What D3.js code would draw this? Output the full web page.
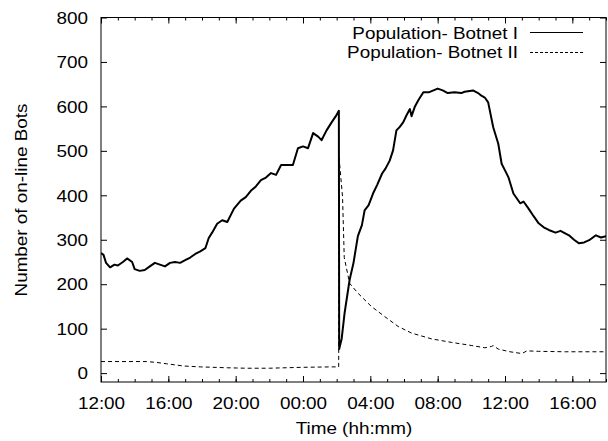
<!DOCTYPE html>
<html>
<head>
<meta charset="utf-8">
<script src="https://cdn.jsdelivr.net/npm/d3@7"></script>
<style>
  html, body { margin: 0; padding: 0; background: #fff; }
  svg { display: block; }
  text { font-family: "Liberation Sans", Arial, Helvetica, sans-serif; font-size: 16px; fill: #000; }
</style>
</head>
<body>
<svg id="chart" width="608" height="441"></svg>
<script>
// Hours elapsed since 12:00 on day 1
const botnet1Hours = [0.0,0.15,0.3,0.54,0.8,1.0,1.3,1.55,1.85,2.0,2.3,2.6,2.9,3.2,3.5,3.8,4.1,4.4,4.7,5.0,5.3,5.6,5.9,6.2,6.4,6.6,6.9,7.2,7.5,7.9,8.3,8.6,8.9,9.2,9.5,9.8,10.1,10.4,10.7,11.0,11.4,11.7,12.0,12.3,12.6,12.9,13.1,13.4,13.7,13.95,14.13,14.15,14.3,14.47,14.77,15.0,15.26,15.5,15.66,15.9,16.16,16.4,16.7,16.9,17.15,17.35,17.55,17.75,17.95,18.15,18.35,18.45,18.65,18.85,19.15,19.5,20.0,20.3,20.6,21.0,21.4,21.6,22.1,22.4,22.6,22.8,23.0,23.3,23.6,23.8,24.0,24.2,24.5,24.9,25.1,25.4,25.7,26.0,26.3,26.6,27.0,27.3,27.6,27.8,28.1,28.4,28.7,29.0,29.4,29.7,30.0];
const botnet1Values = [270,266,248,238,244,242,250,258,250,234,230,232,240,248,244,240,248,250,248,254,260,268,274,281,304,316,336,344,340,370,388,396,410,420,434,440,450,446,468,468,468,506,510,506,540,532,524,546,564,578,590,54,78,135,210,248,308,333,366,378,404,423,449,460,478,501,546,554,564,580,594,578,600,614,632,632,640,636,630,632,630,633,636,630,624,620,609,553,516,471,456,441,404,382,386,370,353,337,328,322,316,320,314,310,300,292,294,299,310,305,308];

const botnet2Hours = [0,2.7,3.3,3.9,4.9,5.9,7.5,8.6,10,11.9,13.7,14.12,14.14,14.35,14.45,14.77,15.26,16.06,16.86,17.65,18.45,19.64,20.84,22.03,22.8,23.2,23.3,23.6,24.3,25.0,25.3,26,27.6,30];
const botnet2Values = [26,26,24,21,16,14,12,11,11,13,14,14,486,396,260,202,180,150,127,105,90,77,69,62,57,60,62,54,48,44,50,49,48,48];

const xTickHours = [0,4,8,12,16,20,24,28];
const xTickLabels = ["12:00","16:00","20:00","00:00","04:00","08:00","12:00","16:00"];
const yTickValues = [0,100,200,300,400,500,600,700,800];
const seriesNames = ["Population- Botnet I","Population- Botnet II"];

const svg = d3.select("#chart");
const M = {left: 101, right: 606, top: 17.5, bottom: 382};
const SX = 1.18; // horizontal stretch of glyphs in the reference

const x = d3.scaleLinear().domain([0, 30]).range([M.left, M.right]);
const y = d3.scaleLinear().domain([-20, 800]).range([M.bottom, M.top]);

const minorHours = d3.range(0, 31, 1);

function styleAxis(g) {
  g.select(".domain").remove();
  g.selectAll("line").attr("stroke", "#000").attr("stroke-width", 1);
}

svg.append("g").attr("transform", `translate(0,${M.bottom})`)
  .call(d3.axisBottom(x).tickValues(minorHours).tickSize(-3).tickFormat(""))
  .call(styleAxis);
svg.append("g").attr("transform", `translate(0,${M.top})`)
  .call(d3.axisTop(x).tickValues(minorHours).tickSize(-3).tickFormat(""))
  .call(styleAxis);
const gxb = svg.append("g").attr("transform", `translate(0,${M.bottom})`)
  .call(d3.axisBottom(x).tickValues(xTickHours).tickSize(-6)
        .tickFormat((d, i) => xTickLabels[i]))
  .call(styleAxis);
gxb.selectAll("text").attr("y", 27).attr("dy", null)
  .attr("font-size", 16).attr("font-family", null)
  .attr("transform", `scale(${SX},1)`);
svg.append("g").attr("transform", `translate(0,${M.top})`)
  .call(d3.axisTop(x).tickValues(xTickHours).tickSize(-6).tickFormat(""))
  .call(styleAxis);
const gyl = svg.append("g").attr("transform", `translate(${M.left},0)`)
  .call(d3.axisLeft(y).tickValues(yTickValues).tickSize(-6).tickFormat(d3.format("d")))
  .call(styleAxis);
gyl.selectAll("text").attr("x", -13 / SX).attr("dy", "0.36em")
  .attr("font-size", 16).attr("font-family", null)
  .attr("transform", `scale(${SX},1)`);
svg.append("g").attr("transform", `translate(${M.right},0)`)
  .call(d3.axisRight(y).tickValues(yTickValues).tickSize(-6).tickFormat(""))
  .call(styleAxis);

svg.append("rect")
  .attr("x", M.left).attr("y", M.top)
  .attr("width", M.right - M.left).attr("height", M.bottom - M.top)
  .attr("fill", "none").attr("stroke", "#000").attr("stroke-width", 1);

svg.append("clipPath").attr("id", "plotclip").append("rect")
  .attr("x", M.left).attr("y", M.top)
  .attr("width", M.right - M.left).attr("height", M.bottom - M.top);

const line = d3.line().x(d => x(d[0])).y(d => y(d[1]));
const s1 = botnet1Hours.map((h, i) => [h, botnet1Values[i]]);
const s2 = botnet2Hours.map((h, i) => [h, botnet2Values[i]]);

svg.append("path").datum(s2)
  .attr("d", line).attr("clip-path", "url(#plotclip)")
  .attr("fill", "none").attr("stroke", "#000").attr("stroke-width", 1)
  .attr("stroke-dasharray", "4,3");

svg.append("path").datum(s1)
  .attr("d", line).attr("clip-path", "url(#plotclip)")
  .attr("fill", "none").attr("stroke", "#000").attr("stroke-width", 2)
  .attr("stroke-linejoin", "round");

const legendRows = [
  {name: seriesNames[0], base: 39, ly: 32.5, dash: null},
  {name: seriesNames[1], base: 58, ly: 52.5, dash: "3,2"}
];
legendRows.forEach(r => {
  svg.append("text")
    .attr("transform", `translate(518,${r.base}) scale(${SX},1)`)
    .attr("text-anchor", "end")
    .text(r.name);
  svg.append("line")
    .attr("x1", 530).attr("x2", 583).attr("y1", r.ly).attr("y2", r.ly)
    .attr("stroke", "#000").attr("stroke-width", 1)
    .attr("stroke-dasharray", r.dash);
});

svg.append("text")
  .attr("transform", `translate(354,434) scale(${SX},1)`)
  .attr("text-anchor", "middle")
  .text("Time (hh:mm)");
svg.append("text")
  .attr("transform", `translate(27,200) rotate(-90) scale(${SX},1)`)
  .attr("text-anchor", "middle")
  .text("Number of on-line  Bots");
</script>
</body>
</html>
